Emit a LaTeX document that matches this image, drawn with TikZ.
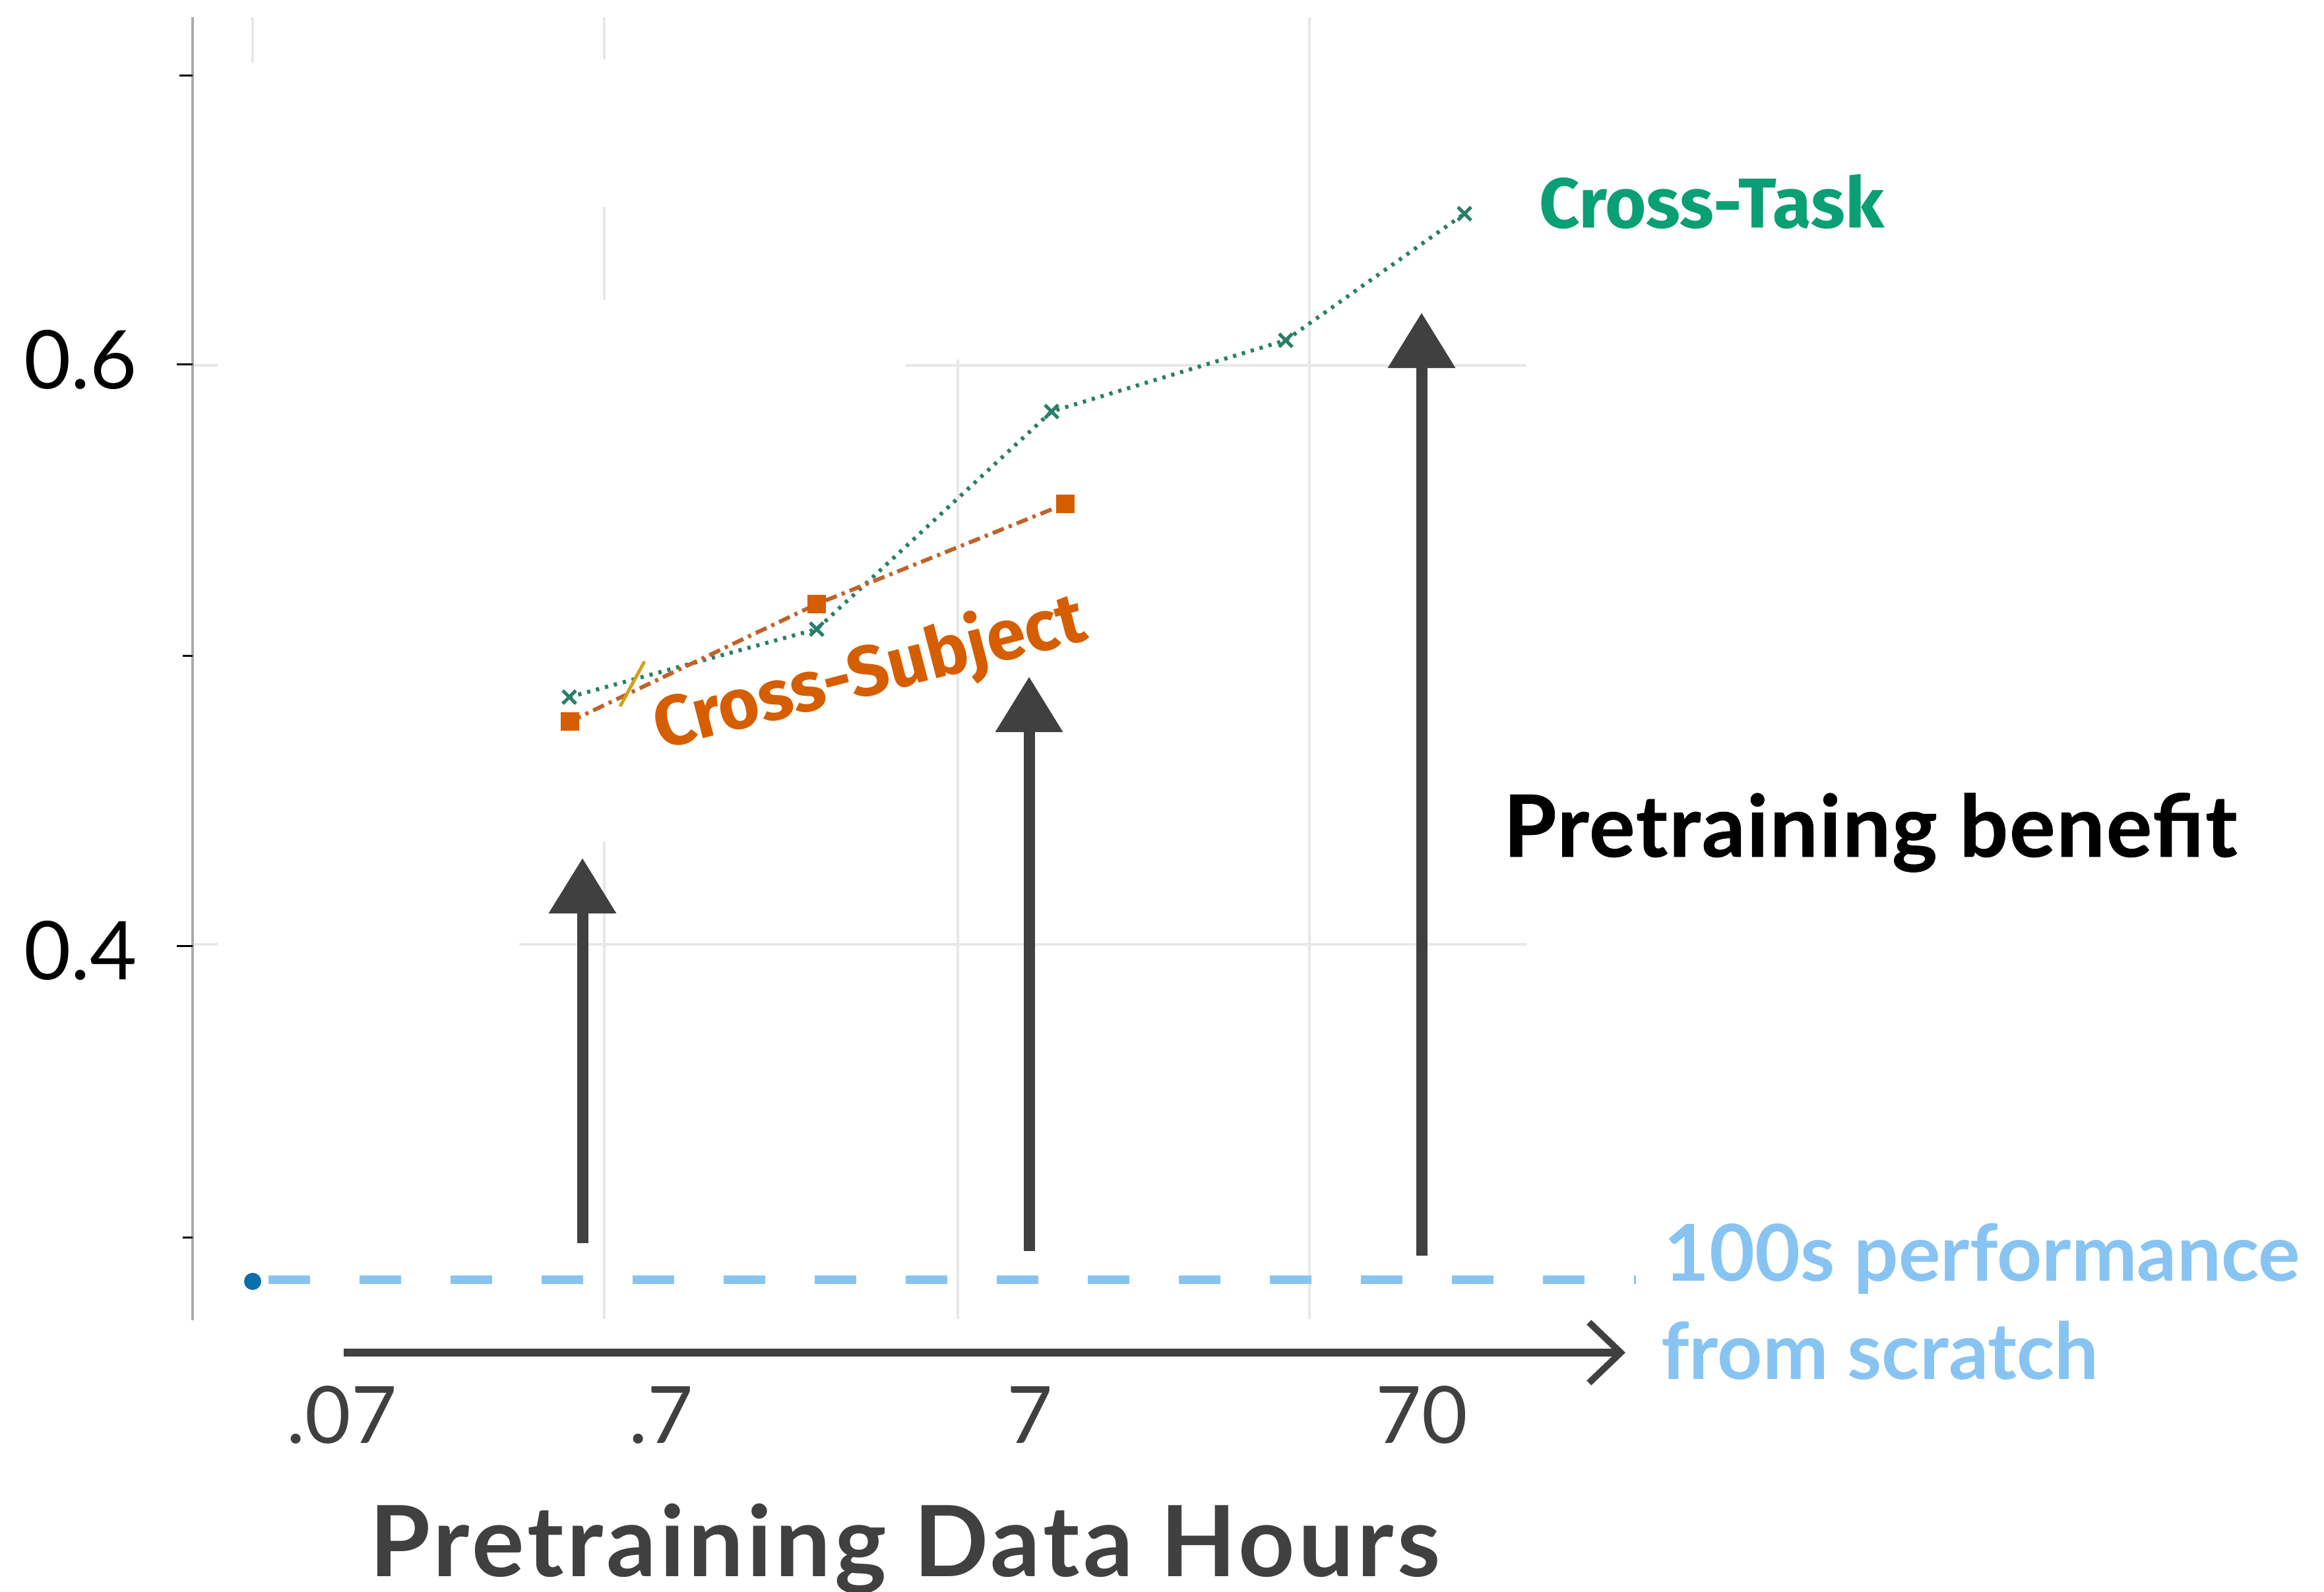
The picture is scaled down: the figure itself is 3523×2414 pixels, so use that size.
\documentclass[tikz,border=0pt]{standalone}
\usepackage{fontspec}
\setmainfont{Lato}
\newfontfamily\fira{Fira Sans}
\newfontfamily\latowide[LetterSpace=3.5]{Lato}
\newfontfamily\latobenefit[LetterSpace=1.5,FakeBold=0.6]{Lato}
\usetikzlibrary{arrows.meta}
\definecolor{ctgreen}{HTML}{0A9F74}
\definecolor{ctdot}{HTML}{2A7E68}
\definecolor{csorange}{HTML}{D55E00}
\definecolor{csdash}{HTML}{C0622A}
\definecolor{scratchblue}{HTML}{88C4F2}
\definecolor{dotblue}{HTML}{0A6EAA}
\definecolor{arrowgray}{HTML}{404040}
\definecolor{gridgray}{HTML}{E8E8E8}
\definecolor{axisgray}{HTML}{AAAAAA}
\definecolor{markyellow}{HTML}{D4A017}
\begin{document}
\begin{tikzpicture}[x=1pt,y=-1pt,
  gridline/.style={draw=gridgray,line width=4pt},
  tickmark/.style={draw=black,line width=3pt},
  benefit/.style={draw=arrowgray,line width=17pt,-{Triangle[length=84pt,width=98pt]}},
  taskline/.style={draw=ctdot,line width=6pt,dash pattern=on 5pt off 9pt},
  subjline/.style={draw=csdash,line width=6pt,dash pattern=on 18pt off 8pt on 5pt off 8pt},
  ticklabel/.style={inner sep=0pt,anchor=base,text=arrowgray,font=\fontsize{120}{140}\selectfont},
  ylabel/.style={inner sep=0pt,anchor=base west,text=black,font=\fontsize{123}{140}\selectfont},
  seriesname/.style={inner sep=0pt,anchor=base west,font=\fira\bfseries\fontsize{107}{120}\selectfont}
]
\useasboundingbox[fill=white] (0,0) rectangle (3523,2414);

% grid
\draw[gridline] (383,26) -- (383,96);
\draw[gridline] (916,26) -- (916,90);
\draw[gridline] (916,314) -- (916,455);
\draw[gridline] (916,1276) -- (916,2000);
\draw[gridline] (1452,545) -- (1452,2000);
\draw[gridline] (1985,26) -- (1985,2000);
\draw[gridline] (1373,554) -- (2314,554);
\draw[gridline] (787,1432) -- (2314,1432);
\draw[gridline] (292,554) -- (330,554);
\draw[gridline] (292,1432) -- (330,1432);

% y axis
\draw[draw=axisgray,line width=4pt] (292,26) -- (292,2002);
\foreach \yy/\xs in {114/272,552/268,994/277,1434/268,1876/277}
  \draw[tickmark] (\xs,\yy) -- (292,\yy);
\node[ylabel] (y6) at (36,589) {0.6};
\node[ylabel] (y4) at (36,1485) {0.4};

% from-scratch baseline
\draw[draw=scratchblue,line width=13pt,dash pattern=on 63pt off 75pt] (407,1940) -- (2480,1940);
\fill[dotblue] (383,1943) circle (13);

% series points
\coordinate (t1) at (863,1057);
\coordinate (t2) at (1238,954);
\coordinate (t3) at (1594,624);
\coordinate (t4) at (1949,516);
\coordinate (t5) at (2220,324);
\coordinate (s1) at (864,1094);
\coordinate (s2) at (1238,916);
\coordinate (s3) at (1615,764);

\draw[taskline] (t1) -- (t2) -- (t3) -- (t4) -- (t5);
\draw[subjline] (s1) -- (s2) -- (s3);
\draw[draw=markyellow,line width=5pt] (940,1071) -- (977,1003);

\foreach \p in {t1,t2,t3,t4,t5}
  \draw[draw=ctdot,line width=5pt] ([shift={(-10,-10)}]\p) -- ([shift={(10,10)}]\p)
                                   ([shift={(-10,10)}]\p) -- ([shift={(10,-10)}]\p);
\foreach \p in {s1,s2,s3}
  \fill[csorange] ([shift={(-14,-14)}]\p) rectangle ([shift={(14,14)}]\p);

% series labels
\node[seriesname,text=ctgreen] (ctlabel) at (2333,345) {Cross-Task};
\node[seriesname,text=csorange,rotate=14.5] (cslabel) at (1001,1137) {Cross-Subject};

% benefit arrows
\coordinate (b1s) at (883,1885);
\coordinate (b1e) at (883,1301);
\coordinate (b2s) at (1560,1897);
\coordinate (b2e) at (1560,1026);
\coordinate (b3s) at (2155,1904);
\coordinate (b3e) at (2155,474);
\draw[benefit] (b1s) -- (b1e);
\draw[benefit] (b2s) -- (b2e);
\draw[benefit] (b3s) -- (b3e);

\node[inner sep=0pt,anchor=base west,font=\latobenefit\bfseries\fontsize{130}{150}\selectfont] (pb) at (2279,1299) {Pretraining benefit};

% x direction arrow
\coordinate (xs) at (521,2051);
\coordinate (xe) at (2464,2051);
\draw[draw=arrowgray,line width=12pt,-{Straight Barb[length=48pt,width=92pt,line width=10pt]}] (xs) -- (xe);

\node[inner sep=0pt,anchor=base west,text=scratchblue,font=\bfseries\fontsize{119}{140}\selectfont] (sc1) at (2522,1942) {100s performance};
\node[inner sep=0pt,anchor=base west,text=scratchblue,font=\bfseries\fontsize{119}{140}\selectfont] (sc2) at (2518,2091) {from scratch};

% x tick labels
\node[ticklabel] (x1) at (518,2188) {.07};
\node[ticklabel] (x2) at (1002,2188) {.7};
\node[ticklabel] (x3) at (1561,2188) {7};
\node[ticklabel] (x4) at (2155,2188) {70};

\node[inner sep=0pt,anchor=base west,text=arrowgray,font=\latowide\bfseries\fontsize{149}{170}\selectfont] (xlab) at (560,2390) {Pretraining Data Hours};
\end{tikzpicture}
\end{document}
